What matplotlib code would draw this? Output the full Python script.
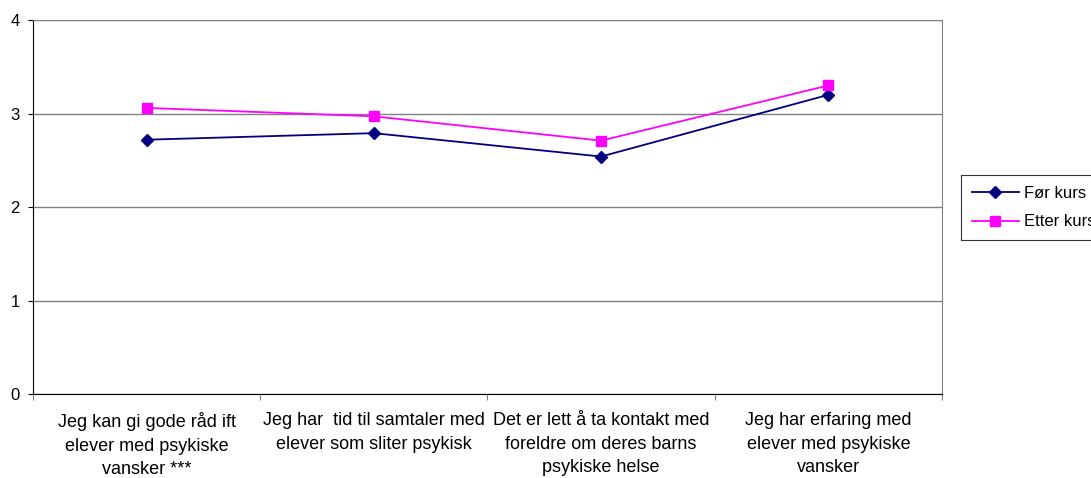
import matplotlib.pyplot as plt
import numpy as np

plt.rcParams['font.family'] = ['Liberation Sans', 'DejaVu Sans']

categories = [
    "Jeg kan gi gode råd ift\nelever med psykiske\nvansker ***",
    "Jeg har  tid til samtaler med\nelever som sliter psykisk",
    "Det er lett å ta kontakt med\nforeldre om deres barns\npsykiske helse",
    "Jeg har erfaring med\nelever med psykiske\nvansker",
]
for_kurs = [2.72, 2.79, 2.54, 3.20]
etter_kurs = [3.06, 2.97, 2.71, 3.30]

fig = plt.figure(figsize=(10.91, 4.78), dpi=100)
ax = fig.add_axes([0.0302, 0.1757, 0.8332, 0.7824])

x = np.arange(len(categories))
ax.plot(x, for_kurs, color="#000080", marker="D", markersize=6.5, lw=1.3, label="Før kurs")
ax.plot(x, etter_kurs, color="#FF00FF", marker="s", markersize=6.5, lw=1.3, label="Etter kurs")

ax.set_xlim(-0.5, len(categories) - 0.5)
ax.set_ylim(0, 4)
ax.set_yticks([0, 1, 2, 3, 4])
ax.yaxis.grid(True, color="#808080", lw=1)
ax.set_axisbelow(True)

# category labels between boundary ticks
ax.set_xticks(np.arange(-0.5, len(categories), 1))
ax.set_xticklabels([])
ax.set_xticks(x, minor=True)
ax.set_xticklabels(categories, minor=True, fontsize=13, linespacing=1.5)
ax.tick_params(axis="x", which="minor", length=0, pad=13)
ax.tick_params(axis="x", which="major", length=4, color="#808080")
ax.tick_params(axis="y", length=3.6, labelsize=12, pad=6)

for side in ["top", "right"]:
    ax.spines[side].set_color("#808080")
ax.spines["left"].set_color("black")
ax.spines["bottom"].set_color("black")

leg = fig.legend(loc="upper left", bbox_to_anchor=(0.881, 0.634), fontsize=12,
                 frameon=True, fancybox=False, edgecolor="black", borderpad=0.65,
                 borderaxespad=0, handlelength=2.8, handletextpad=0.3, labelspacing=0.82)
leg.get_frame().set_linewidth(0.8)

fig.savefig("out.png", dpi=100)
